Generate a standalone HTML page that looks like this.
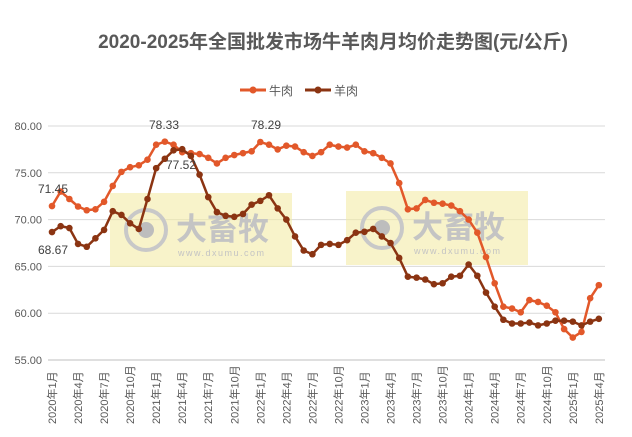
<!DOCTYPE html>
<html><head><meta charset="utf-8"><style>
body{margin:0;background:#fff;}
svg{display:block;font-family:"Liberation Sans","Noto Sans CJK SC",sans-serif;}
</style></head><body>
<svg id="c" width="632" height="437" xmlns="http://www.w3.org/2000/svg">
<rect width="632" height="437" fill="#fff"/>
<text x="333" y="48" text-anchor="middle" font-size="19" font-weight="bold" fill="#595959">2020-2025年全国批发市场牛羊肉月均价走势图(元/公斤)</text>
<g font-size="12" fill="#595959">
<line x1="240" y1="90" x2="266" y2="90" stroke="#E2582A" stroke-width="3"/><circle cx="253" cy="90" r="3.5" fill="#E2582A"/><text x="269" y="95">牛肉</text>
<line x1="305" y1="90" x2="331" y2="90" stroke="#8B3412" stroke-width="3"/><circle cx="318" cy="90" r="3.5" fill="#8B3412"/><text x="334" y="95">羊肉</text>
</g>
<g id="grid" stroke="#d9d9d9" stroke-width="1"></g>
<g id="yl" font-size="11" fill="#595959" text-anchor="end"></g>
<g id="wm"></g>
<g id="series"></g>
<g id="xl" font-size="11" fill="#595959"></g>
<g font-size="12" fill="#404040">
<text x="38" y="193">71.45</text><text x="38" y="254">68.67</text>
<text x="149" y="129">78.33</text><text x="166" y="169">77.52</text><text x="251" y="129">78.29</text>
</g>
</svg>
<script>
const NS="http://www.w3.org/2000/svg";
function el(p,t,a,txt){const e=document.createElementNS(NS,t);for(const k in a)e.setAttribute(k,a[k]);if(txt!=null)e.textContent=txt;document.getElementById(p).appendChild(e);return e;}
const Y=v=>360-(v-55)*9.36, X=i=>52+i*8.68;
for(let v=55;v<=80;v+=5){el("grid","line",{x1:48,x2:605,y1:Y(v),y2:Y(v)});el("yl","text",{x:42,y:Y(v)+4},v.toFixed(2));}
[[110,193],[346,191]].forEach(([x,y])=>{
 el("wm","rect",{x:x,y:y,width:182,height:74,fill:"#f3eba6",opacity:0.6});
 el("wm","circle",{cx:x+36,cy:y+37,r:20,fill:"none",stroke:"#c8c8c8","stroke-width":4});
 el("wm","circle",{cx:x+36,cy:y+37,r:8,fill:"#bdbdbd"});
 el("wm","text",{x:x+66,y:y+47,"font-size":31,"font-weight":"bold",fill:"#c4c4c4"},"大畜牧");
 el("wm","text",{x:x+68,y:y+63,"font-size":9,fill:"#c4c4c4","letter-spacing":"1.5"},"www.dxumu.com");
});
const beef=[71.45,73.0,72.2,71.4,71.0,71.1,71.9,73.6,75.1,75.6,75.8,76.4,78.0,78.33,78.0,77.2,77.1,77.0,76.6,76.0,76.6,76.9,77.1,77.3,78.29,78.0,77.5,77.9,77.8,77.2,76.8,77.2,78.0,77.8,77.7,78.0,77.3,77.1,76.6,76.0,73.9,71.1,71.2,72.1,71.8,71.7,71.5,70.9,70.0,68.6,66.0,63.2,60.7,60.5,60.1,61.4,61.2,60.8,60.1,58.3,57.4,58.0,61.6,63.0];
const mut=[68.67,69.3,69.1,67.4,67.1,68.0,68.9,70.9,70.5,69.6,69.0,72.2,
75.5,76.5,77.4,77.52,76.8,74.8,72.4,70.8,70.4,70.3,70.6,71.6,
72.0,72.6,71.2,70.0,68.2,66.7,66.3,
67.3,67.4,67.3,67.8,68.6,68.7,69.0,68.2,67.5,65.9,63.9,63.8,63.6,63.1,63.2,63.9,64.0,65.2,64.0,62.2,60.7,59.3,58.9,58.9,59.0,58.7,58.9,59.2,59.2,59.1,58.7,59.1,59.4];
[[beef,"#E2582A"],[mut,"#8B3412"]].forEach(([d,c])=>{
 el("series","polyline",{points:d.map((v,i)=>X(i)+","+Y(v)).join(" "),fill:"none",stroke:c,"stroke-width":2.5,"stroke-linejoin":"round"});
 d.forEach((v,i)=>el("series","circle",{cx:X(i),cy:Y(v),r:3.3,fill:c}));
});
el("grid","line",{x1:48,x2:605,y1:360,y2:360,stroke:"#bfbfbf"});
for(let i=0;i<64;i+=3){const y=2020+Math.floor(i/12),m=i%12+1;const x=X(i)+4;
 el("xl","text",{x:0,y:0,transform:`translate(${x},${424}) rotate(-90)`},y+"年"+m+"月");}
</script>
</body></html>
